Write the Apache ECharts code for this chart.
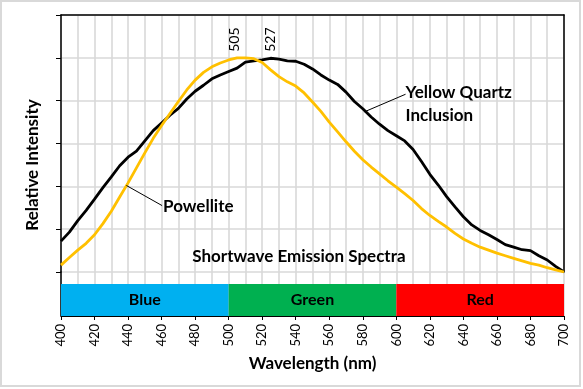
<!DOCTYPE html>
<html><head><meta charset="utf-8">
<script src="https://cdn.jsdelivr.net/npm/echarts@6/dist/echarts.min.js"></script>
<style>html,body{margin:0;padding:0;background:#fff}#c{width:583px;height:389px}</style>
</head><body><div id="c"></div>
<script>
const wavelengths = [400,405,410,415,420,425,430,435,440,445,450,455,460,465,470,475,480,485,490,495,500,505,510,515,520,525,530,535,540,545,550,555,560,565,570,575,580,585,590,595,600,605,610,615,620,625,630,635,640,645,650,655,660,665,670,675,680,685,690,695,700];
const powellite = [0.16,0.34,0.51,0.67,0.87,1.13,1.42,1.75,2.08,2.43,2.78,3.12,3.42,3.70,3.98,4.25,4.48,4.66,4.79,4.88,4.95,5.00,5.00,4.98,4.89,4.72,4.56,4.44,4.34,4.18,3.97,3.75,3.50,3.27,3.04,2.82,2.62,2.45,2.29,2.13,1.98,1.83,1.67,1.48,1.32,1.18,1.05,0.90,0.77,0.67,0.58,0.51,0.44,0.38,0.32,0.26,0.20,0.16,0.10,0.05,0.00];
const yellowQuartz = [0.72,0.93,1.20,1.44,1.70,1.97,2.22,2.48,2.68,2.82,3.06,3.30,3.48,3.66,3.82,4.04,4.22,4.36,4.51,4.60,4.68,4.76,4.90,4.93,4.95,4.99,4.97,4.93,4.92,4.85,4.74,4.60,4.48,4.38,4.20,3.98,3.81,3.62,3.45,3.30,3.18,3.06,2.86,2.58,2.28,2.03,1.76,1.52,1.29,1.10,0.97,0.87,0.76,0.64,0.58,0.52,0.50,0.38,0.28,0.13,0.00];
const bandNames = ['Blue','Green','Red'];
const bandStart = [400,500,600];
const bandEnd = [500,600,700];
const peakWavelengths = [505,527];
const peakValues = [5,5];

const FONT = 'Lato';
const GRID = '#d9d9d9';
const bandColors = ['#00b0f0','#00b050','#ff0000'];

const chart = echarts.init(document.getElementById('c'), null, {renderer:'canvas'});
const option = {
  animation:false,
  backgroundColor:'#fff',
  textStyle:{fontFamily:FONT},
  grid:[
    {left:61, right:19, top:15, height:257},
    {left:61, right:19, top:272, height:44}
  ],
  xAxis:[
    {gridIndex:0, type:'value', min:400, max:700, interval:10, position:'top',
     axisLine:{show:true, onZero:false, lineStyle:{color:'#000', width:1.5}},
     axisTick:{show:false}, axisLabel:{show:false},
     splitLine:{show:true, lineStyle:{color:GRID, width:1.6}}},
    {gridIndex:1, type:'value', min:400, max:700, interval:20, position:'bottom',
     axisLine:{show:true, onZero:false, lineStyle:{color:'#000', width:1}},
     axisTick:{show:true, length:4, lineStyle:{color:'#000'}},
     axisLabel:{rotate:90, fontSize:13, color:'#000', fontFamily:FONT, margin:8},
     splitLine:{show:true, lineStyle:{color:GRID, width:1.6}},
     minorTick:{show:false, splitNumber:2},
     minorSplitLine:{show:true, lineStyle:{color:GRID, width:1.6}},
     name:'Wavelength (nm)', nameLocation:'middle', nameGap:39,
     nameTextStyle:{fontWeight:'bold', fontSize:17, color:'#000', fontFamily:FONT}}
  ],
  yAxis:[
    {gridIndex:0, type:'value', min:0, max:6, interval:1, position:'left',
     axisLine:{show:true, onZero:false, lineStyle:{color:'#000', width:1.5}},
     axisTick:{show:true, length:5, lineStyle:{color:'#000'}},
     axisLabel:{show:false},
     splitLine:{show:true, lineStyle:{color:GRID, width:1.6}}},
    {gridIndex:0, type:'value', min:0, max:6, interval:1, position:'right',
     axisLine:{show:true, onZero:false, lineStyle:{color:'#000', width:1.5}},
     axisTick:{show:false}, axisLabel:{show:false}, splitLine:{show:false}},
    {gridIndex:1, type:'value', min:0, max:44, position:'left',
     axisLine:{show:true, onZero:false, lineStyle:{color:'#000', width:1.5}},
     axisTick:{show:false}, axisLabel:{show:false}, splitLine:{show:false}}
  ],
  series:[
    {type:'line', name:'Yellow Quartz Inclusion', xAxisIndex:0, yAxisIndex:0,
     data:wavelengths.map((w,i)=>[w,yellowQuartz[i]]), symbol:'none', z:3,
     lineStyle:{color:'#000', width:2.8},
     markLine:{silent:true, symbol:['none','arrow'], symbolSize:[0,7],
       lineStyle:{color:'#000', width:1, type:'solid'}, label:{show:false},
       data:[[{coord:[605.5,4.15]},{coord:[581,3.74]}]]}},
    {type:'line', name:'Powellite', xAxisIndex:0, yAxisIndex:0,
     data:wavelengths.map((w,i)=>[w,powellite[i]]), symbol:'none', z:4,
     lineStyle:{color:'#FFC000', width:2.8},
     markLine:{silent:true, symbol:['none','arrow'], symbolSize:[0,7],
       lineStyle:{color:'#000', width:1, type:'solid'}, label:{show:false},
       data:[[{coord:[460.3,1.55]},{coord:[439,2.02]}]]}},
    {type:'custom', name:'bands', xAxisIndex:1, yAxisIndex:2, z:5,
     data:bandNames.map((n,i)=>[bandStart[i], bandEnd[i], i]),
     renderItem:function(params, api){
       const i = api.value(2);
       const p0 = api.coord([api.value(0), 32]);
       const p1 = api.coord([api.value(1), 0]);
       return {type:'rect', shape:{x:p0[0], y:p0[1], width:p1[0]-p0[0], height:p1[1]-p0[1]},
         style:{fill:bandColors[i], stroke:null},
         textContent:{style:{text:bandNames[i], fill:'#000', font:'bold 16px '+FONT}},
         textConfig:{position:'inside'}};
     }}
  ]
};
chart.setOption(option);

const toPx = (x,y)=>chart.convertToPixel({gridIndex:0}, [x,y]);
const graphics = [
  {type:'rect', shape:{x:1, y:1, width:579, height:385}, style:{fill:'none', stroke:'#d9d9d9', lineWidth:2}, silent:true},
  {type:'text', x:33, y:165, rotation:Math.PI/2, style:{text:'Relative Intensity', font:'bold 17px '+FONT, fill:'#000', align:'center', verticalAlign:'middle'}}
];
peakWavelengths.forEach((w,i)=>{
  const p = toPx(w, peakValues[i]);
  graphics.push({type:'text', x:p[0]-3, y:p[1]-6, rotation:Math.PI/2,
    style:{text:String(w), font:'14px '+FONT, fill:'#000', align:'left', verticalAlign:'middle'}});
});
const pq = toPx(605.5, 4.15);
graphics.push({type:'text', x:pq[0], y:pq[1]-2, style:{text:'Yellow Quartz', font:'bold 17px '+FONT, fill:'#000', align:'left', verticalAlign:'middle'}});
graphics.push({type:'text', x:pq[0], y:pq[1]+21, style:{text:'Inclusion', font:'bold 17px '+FONT, fill:'#000', align:'left', verticalAlign:'middle'}});
const pp = toPx(460.3, 1.55);
graphics.push({type:'text', x:pp[0]+1, y:pp[1]+1, style:{text:'Powellite', font:'bold 17px '+FONT, fill:'#000', align:'left', verticalAlign:'middle'}});
const ps = toPx(541.9, 0.37);
graphics.push({type:'text', x:ps[0], y:ps[1], style:{text:'Shortwave Emission Spectra', font:'bold 17px '+FONT, fill:'#000', align:'center', verticalAlign:'middle'}});
chart.setOption({graphic:graphics});
</script></body></html>
